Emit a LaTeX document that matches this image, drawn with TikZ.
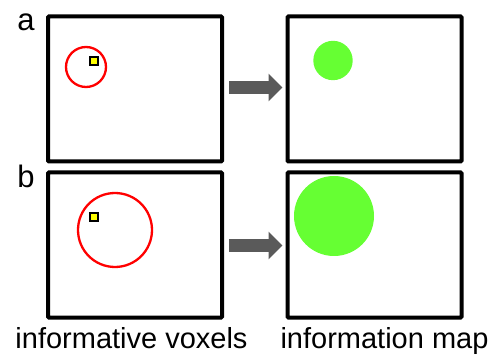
\documentclass[tikz,border=0pt]{standalone}
\usepackage{fontspec}
\setmainfont{Liberation Sans}
\usetikzlibrary{arrows.meta}
\definecolor{redc}{HTML}{FF0000}
\definecolor{greenc}{HTML}{66FF33}
\definecolor{yellowc}{HTML}{FFFF00}
\definecolor{arrowc}{HTML}{5A5A5A}
\tikzset{
  panel/.style={draw=black, line width=4pt, rounded corners=1pt, minimum width=174pt, minimum height=145pt, inner sep=0pt},
  voxel/.style={draw=black, fill=yellowc, line width=2pt, minimum size=8pt, inner sep=0pt},
  searchlight/.style={draw=redc, line width=2.3pt},
  infoblob/.style={fill=greenc},
  blockarrow/.style={draw=arrowc, line width=13pt, -{Triangle[width=27pt,length=14pt]}, arrowc},
  caption/.style={font=\fontsize{29}{34}\selectfont, inner sep=0pt, anchor=base},
  panellabel/.style={font=\fontsize{31}{36}\selectfont, inner sep=0pt, anchor=base}
}
\begin{document}
\begin{tikzpicture}[x=1pt,y=-1pt]
\useasboundingbox (0,0) rectangle (495,355);
% panels
\node[panel] (aL) at (135,89) {};
\node[panel] (aR) at (374.5,89) {};
\node[panel] (bL) at (135,245) {};
\node[panel] (bR) at (374.5,245) {};
% row a content
\draw[searchlight] (86,67) circle (20);
\node[voxel] (va) at (94,61) {};
\fill[infoblob] (333,60.5) circle (19.7);
% row b content
\draw[searchlight] (115,230) circle (37);
\node[voxel] (vb) at (94,217) {};
\fill[infoblob] (334,216) circle (40);
% arrows
\draw[blockarrow, shorten <=5pt, shorten >=3pt] ([yshift=1.5pt]aL.east) -- ([yshift=1.5pt]aR.west);
\draw[blockarrow, shorten <=5pt, shorten >=3pt] ([yshift=-0.5pt]bL.east) -- ([yshift=-0.5pt]bR.west);
% labels
\node[panellabel] (la) at (26,31) {a};
\node[panellabel] (lb) at (26,188) {b};
\node[caption] (c1) at (131.5,348) {informative voxels};
\node[caption] (c2) at (384.5,348) {information map};
\end{tikzpicture}
\end{document}
